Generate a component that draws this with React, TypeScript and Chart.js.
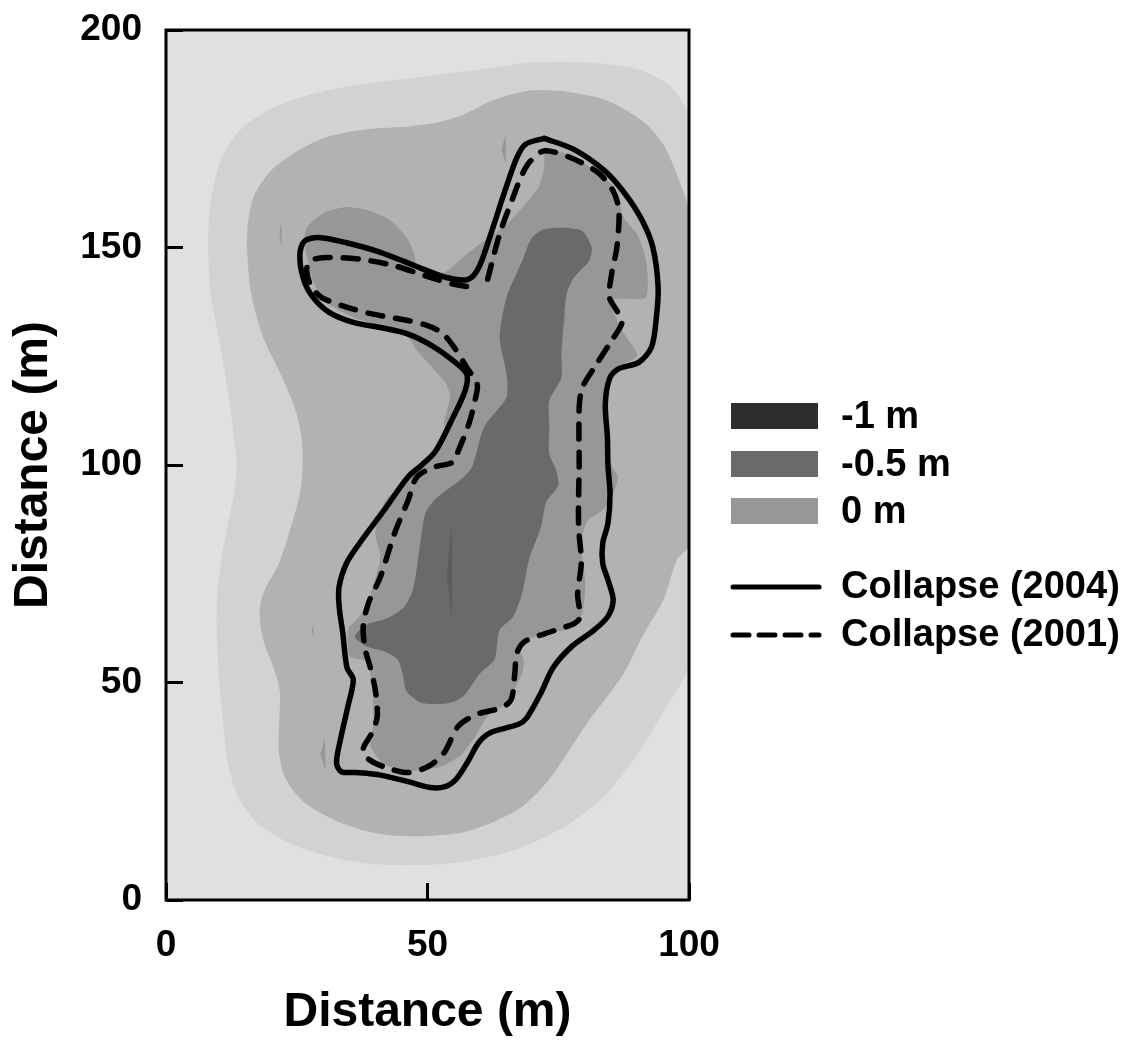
import React, { useEffect, useRef } from "react";
import { Chart, registerables } from "chart.js";

Chart.register(...registerables);

type P = [number, number];

const collapse2004: P[] = [
  [72.3,175.1],[77.9,172.6],[83.9,167.6],[87.8,162.3],[91.1,156.1],[93.1,150],[94.1,140.8],[93.7,133.2],[92.8,127],[90.4,123.6],[86.5,122.1],[84.8,119.8],[84,114],[84.4,106.4],[84.5,100],
  [84.9,93.4],[84.5,86.6],[83.5,82],[83.5,77.4],[84.5,73.6],[85.5,69],[84.5,65.2],[81.9,62.1],[77.6,58.3],[74,53.4],[71.7,47.6],[69,41.9],[67.4,40.4],[62.1,38.5],[59.8,36.2],[57.8,32],[55.5,27.8],[53.2,26],[50.3,25.9],[46.3,27.2],[41,28.7],[36.4,29.3],[33.5,29.5],[32.6,31.6],[33.5,37.7],[34.8,44.6],[35.8,50.7],[34.6,53.4],[33.8,61.4],[33.1,67.5],[33.1,72.1],[34.5,77.4],[37,82],[41.7,89.6],[46.3,97.3],[48.9,100],
  [51.6,103.3],[54.9,111],[57.2,117.1],[57.5,120.9],[54.9,124],[50.9,127.4],[46.3,130.1],[41,131.6],[35.8,132.8],[31.2,135.1],[27.9,138.9],[26.2,143.1],[25.6,148.5],[26.5,151.5],[29.2,152.3],[34.5,151.1],[41,148.9],[47.6,145.8],[53.6,143.1],[57.8,142.7],[59.8,145.4],[62.1,153.1],[64.8,163],[67.1,170.7],[68.7,173.7],[72.3,175.1],
];

const collapse2001: P[] = [
  [61.5,142.7],[63.8,153.1],[66.1,160.7],[68.1,166.8],[69.7,169.9],[72.3,172.2],[77.3,170.7],[82.6,167.2],[85.5,163],[86.6,158.4],[86.2,150],[85.2,143.9],[84.8,138.5],[86.2,135.5],[87.2,132.8],[85.2,128.6],[81.9,122.4],[79.6,117.8],[79,113.2],[79,100],
  [78.9,93.4],[78.9,85.8],[79.4,77.4],[78.7,70.5],[78.9,64.4],[74.6,62.1],[68.7,59.5],[67.1,56.8],[66.7,52.2],[66,46.1],[64.1,44.2],[59.5,42.7],[55.9,40],[53.2,33.9],[50.3,30.8],[46.3,29.3],[42,30.5],[38.7,32.4],[37.7,34.7],[39.4,38.5],[40.4,42.3],[40,48.4],[39,53.7],[38.1,57.6],[37.7,62.9],[38.7,68.2],[41,74.3],[43.7,84.3],[46.3,91.9],[48,97.3],[51.3,99.5],[54.9,100.7],
  [55.9,103.3],[57.9,109.4],[59.2,115.5],[59.5,118.6],[57.5,122.4],[54.9,127.4],[52.6,130.5],[49.6,132.2],[45,133.5],[39.1,134.8],[33.8,136.6],[29.8,138.5],[27.9,140.8],[26.9,144.6],[27.5,146.9],[30.5,147.7],[37.1,147.3],[43.7,145.8],[49.6,143.5],[54.9,141.6],[59.8,140.6],
];

const contourOuter: P[] = [
  [100,181],[96.4,187.1],[91.1,190.6],[84.5,192.1],[74.6,192.7],[68.1,192.3],[58.2,190.6],[45,188.7],[31.8,186.4],[21.9,182.9],[14.7,177.6],[10.7,170.7],[8.8,162.3],[8.1,154.6],[8.4,140.8],[10.1,129.3],[11.7,117.8],[13,106.4],[13.5,100],
  [13,93.4],[11.7,85.8],[10.4,76.6],[9.7,68.2],[9.9,55.3],[10.7,43.8],[11.7,32.4],[13.7,24],[17.3,17.9],[23.3,13.3],[30.5,10.2],[39.7,8.3],[50.3,8.1],[58.2,9.1],[67.4,11.8],[76.6,17.1],[83.9,24],[90.4,33.9],[95.7,44.6],[100,54.5],[100,118],[100,181],
];

const contourMiddle: P[] = [
  [100,159.2],[97.7,166.8],[95.1,173.7],[91.1,179.1],[84.5,183.7],[77.9,185.6],[71.3,186.2],[67.4,185.6],[62.1,183.7],[56.9,180.6],[51.6,178.7],[45,177.7],[38.4,177.2],[30.5,175.3],[24.6,171.8],[20,167.6],[17,162.3],[15.7,156.1],[15.5,150],[16.3,139.3],[18.6,129.3],[21.9,120.9],[24.6,113.2],[25.9,106.4],[26.1,100],
  [25.6,93.4],[23.9,85.8],[21.6,77.4],[18.6,70.5],[17.9,66],[18.6,59.8],[20.9,52.2],[21.8,47.6],[21.6,40],[21.6,33.9],[22.9,27.8],[26.5,22.4],[33.1,17.9],[41,15.2],[49.6,14.7],[58.2,16],[67.4,20.9],[73.3,27.8],[80.6,40.8],[87.2,51.5],[91.1,60.6],[95.1,69],[97.7,78.2],[100,81.6],[100,120],[100,159.2],
];

const contourZero: P[] = [
  [72.3,173.1],[72.3,168.4],[71.2,163.8],[68.1,159.2],[64.8,155],[60.8,151.5],[57.5,148.5],[53.2,144.3],[48,145.8],[47.5,148.5],[46,152.3],[43,156.1],[39.1,158.4],[34.5,159.3],[30.2,158],[27.2,155],[26.4,151.9],[27.9,143.1],[30.2,137.8],[35.8,133.9],[41,132],[46.3,129.3],[48,126.3],[50.9,122.4],[53.6,118.6],[54.3,115.5],[53.2,110.2],[53.2,105.6],
  [48.3,98.8],[42,91.9],[40,84.3],[41,78.9],[39.7,72.8],[38.4,67.5],[36.4,64.4],[34.8,62.1],[35.1,56],[38.4,54.9],[39.4,49.2],[39.7,40.8],[39.1,35.4],[41.7,31.2],[46.3,29.7],[52.2,30.5],[56.2,33.1],[59.2,37.7],[61.5,42.3],[65.4,45.7],[68.1,52.2],[68.4,55.3],[67.4,58.3],[71.3,61],[77.6,62.5],[79.6,66],[80.2,72.8],[79.6,78.2],[79.4,82.7],[80.6,87.3],[83.5,89.6],[85.5,93.4],[86.4,97.3],[85.2,100],
  [84.2,106.4],[83.9,117.8],[85.8,122.1],[90.1,125.1],[87.2,130.9],[85.8,134.7],[85.8,138.1],[91.8,138.5],[91.8,146.9],[90.1,153.1],[87.5,156.9],[85.8,163.8],[81.2,168.4],[77.3,171.1],[72.3,173.1],
];

const contourHalf: P[] = [
  [76,154.6],[79.6,153.8],[81.4,150],[80.9,146.9],[78,143.1],[76.6,139.3],[76.1,133.2],[75.6,125.5],[75.6,120.1],[73.3,114.8],[73.3,108.7],[73.3,102.5],
  [74.6,98.8],[75,95.3],[72.7,91.5],[71.7,85.8],[69.4,78.2],[68.1,70.5],[66.4,65.2],[63.8,62.1],[62.8,55.3],[60.1,52.2],[56.9,46.9],[54.2,45.3],[48.9,45.3],[46,48],[45.2,52.2],[44.3,55.3],[41.7,57.2],[38.4,58.3],[36.1,60.6],[38.4,63.3],[42.4,64.8],[45.6,67.5],[47.3,71.7],[48.6,81.9],[49.6,88.9],[51.6,92.3],[56.2,96.5],[58.5,99.5],
  [60.8,108.7],[65.1,115.5],[65.1,120.9],[63.8,129.3],[65.1,138.5],[68.1,146.9],[70,152.3],[72.3,154.2],[76,154.6],
];

const sliverA: P[] = [[65,176],[64.1,172.6],[65,169.3],[65,176]];
const sliverB: P[] = [[22.1,156.5],[21.7,153.1],[22.1,149.6],[22.1,156.5]];
const sliverC: P[] = [[28.2,63.7],[27.9,61.8],[28.2,60.2],[28.2,63.7]];
const sliverD: P[] = [[30.4,37.1],[29.5,33.5],[30.5,29.7],[30.4,37.1]];
const sliverE: P[] = [[54.7,86.9],[53.7,74.7],[54.7,64.4],[54.7,86.9]];

const xTicks = [0, 50, 100];
const yTicks = [0, 50, 100, 150, 200];
const axisTitle = "Distance (m)";
const swatchLabels = ["-1 m", "-0.5 m", "0 m"];
const lineLabels = ["Collapse (2004)", "Collapse (2001)"];

const FONT = '"Liberation Sans", Arial, sans-serif';
const C_BG = "#e0e0e0";
const C_OUTER = "#d2d2d2";
const C_MIDDLE = "#b2b2b2";
const C_ZERO = "#979797";
const C_HALF = "#6a6a6a";
const C_ONE = "#2e2e2e";

const pts = (a: P[]) => a.map(([x, y]) => ({ x, y }));
const area = (label: string, a: P[], color: string, tension = 0.3) => ({
  label,
  data: pts(a),
  showLine: true,
  fill: "shape",
  backgroundColor: color,
  borderColor: color,
  borderWidth: 0,
  pointRadius: 0,
  tension,
});
const curve = (label: string, a: P[], dash: number[]) => ({
  label,
  data: pts(a),
  showLine: true,
  fill: false,
  borderColor: "#000",
  borderWidth: 5.5,
  borderDash: dash,
  borderCapStyle: "round",
  borderJoinStyle: "round",
  pointRadius: 0,
  tension: 0.3,
});

const framePlugin = {
  id: "frame",
  afterDatasetsDraw(chart: any) {
    const { ctx, chartArea: a } = chart;
    ctx.save();
    ctx.strokeStyle = "#000";
    ctx.lineWidth = 3;
    ctx.strokeRect(a.left, a.top, a.right - a.left, a.bottom - a.top);
    ctx.restore();
  },
  beforeDatasetsDraw(chart: any) {
    const { ctx, chartArea: a } = chart;
    ctx.save();
    ctx.fillStyle = C_BG;
    ctx.fillRect(a.left, a.top, a.right - a.left, a.bottom - a.top);
    ctx.restore();
  },
};

const legendPlugin = {
  id: "sideLegend",
  afterDraw(chart: any) {
    const { ctx } = chart;
    ctx.save();
    ctx.font = `bold 38px ${FONT}`;
    ctx.textBaseline = "middle";
    ctx.textAlign = "left";
    const swatchColors = [C_ONE, C_HALF, C_ZERO];
    const swatchY = [403, 451, 498];
    swatchLabels.forEach((t, i) => {
      ctx.fillStyle = swatchColors[i];
      ctx.fillRect(731, swatchY[i], 87, 26);
      ctx.fillStyle = "#000";
      ctx.fillText(t, 841, swatchY[i] + 15);
    });
    const lineY = [587, 635];
    lineLabels.forEach((t, i) => {
      ctx.beginPath();
      ctx.strokeStyle = "#000";
      ctx.lineWidth = 5;
      ctx.lineCap = "round";
      ctx.setLineDash(i === 0 ? [] : [16, 10]);
      ctx.moveTo(733, lineY[i]);
      ctx.lineTo(819, lineY[i]);
      ctx.stroke();
      ctx.setLineDash([]);
      ctx.fillStyle = "#000";
      ctx.fillText(t, 841, lineY[i] + 1);
    });
    ctx.restore();
  },
};

export default function App() {
  const ref = useRef<HTMLCanvasElement>(null);
  useEffect(() => {
    const chart = new Chart(ref.current as HTMLCanvasElement, {
      type: "scatter",
      data: {
        datasets: [
          curve("Collapse (2004)", collapse2004, []),
          curve("Collapse (2001)", collapse2001, [15, 13]),
          area("sliver e", sliverE, "#5c5c5c", 0),
          area("-0.5 m", contourHalf, C_HALF, 0.25),
          area("sliver a", sliverA, C_ZERO, 0),
          area("sliver b", sliverB, C_ZERO, 0),
          area("sliver c", sliverC, C_ZERO, 0),
          area("sliver d", sliverD, C_ZERO, 0),
          area("0 m", contourZero, C_ZERO, 0.2),
          area("middle", contourMiddle, C_MIDDLE, 0.3),
          area("outer", contourOuter, C_OUTER, 0.3),
        ] as any,
      },
      options: {
        animation: false,
        responsive: false,
        devicePixelRatio: 1,
        layout: { padding: { left: 0, right: 438, top: 0, bottom: 0 } },
        plugins: { legend: { display: false }, tooltip: { enabled: false } },
        scales: {
          x: {
            type: "linear",
            min: 0,
            max: 100,
            afterBuildTicks: (s: any) => {
              s.ticks = xTicks.map((value) => ({ value }));
            },
            afterFit: (s: any) => {
              s.height = 142;
            },
            grid: { drawOnChartArea: false, tickLength: -17, tickWidth: 3, tickColor: "#000", z: 1 },
            border: { display: false },
            ticks: { padding: 41, maxRotation: 0, autoSkip: false, color: "#000", font: { family: FONT, weight: "bold", size: 37 } },
            title: { display: true, text: axisTitle, color: "#000", padding: { top: 0, bottom: 0 }, font: { family: FONT, weight: "bold", size: 48 } },
          },
          y: {
            type: "linear",
            min: 0,
            max: 200,
            afterBuildTicks: (s: any) => {
              s.ticks = yTicks.map((value) => ({ value }));
            },
            afterFit: (s: any) => {
              s.width = 166;
              s.paddingTop = 30;
              s.paddingBottom = 0;
            },
            grid: { drawOnChartArea: false, tickLength: -17, tickWidth: 3, tickColor: "#000", z: 1 },
            border: { display: false },
            ticks: { padding: 41, autoSkip: false, color: "#000", font: { family: FONT, weight: "bold", size: 37 } },
            title: { display: true, text: axisTitle, color: "#000", padding: { top: 5, bottom: 0 }, font: { family: FONT, weight: "bold", size: 48 } },
          },
        },
      } as any,
      plugins: [framePlugin, legendPlugin],
    });
    return () => chart.destroy();
  }, []);
  return (
    <div style={{ position: "absolute", left: 0, top: 0, width: 1127, height: 1042, background: "#fff" }}>
      <canvas ref={ref} width={1127} height={1042} style={{ display: "block" }} />
    </div>
  );
}
